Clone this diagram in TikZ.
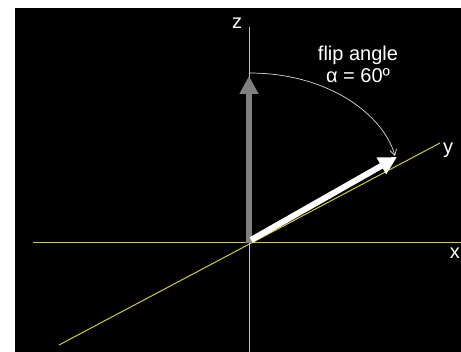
\documentclass[tikz,border=0pt]{standalone}
\usepackage{fontspec}
\setmainfont{Liberation Sans}
\usetikzlibrary{arrows.meta}
\definecolor{axisyellow}{RGB}{205,205,60}
\definecolor{spingray}{RGB}{128,128,128}
\tikzset{
  axis/.style={draw=axisyellow, line width=1pt},
  axislabel/.style={text=white, font=\fontsize{20}{22}\selectfont, inner sep=1pt},
  spin/.style={line width=6pt, -{Triangle[width=18pt,length=18pt]}},
}
\begin{document}
\begin{tikzpicture}[x=1pt, y=-1pt, >=Stealth]
    % Hintergrund
    \useasboundingbox (0,0) rectangle (461,352);
    \fill[black] (15,8) rectangle (461,352);

    % Punkte
    \coordinate (O) at (249,243);
    \coordinate (xL) at (33,243);
    \coordinate (xR) at (461,243);
    \coordinate (zT) at (249,27);
    \coordinate (zB) at (249,352);
    \coordinate (yL) at (59,345);
    \coordinate (yR) at (440,143);
    \coordinate (Mz) at (249,76);
    \coordinate (Mstart) at (251,240);
    \coordinate (Mxy) at (397,157);
    \coordinate (arcA) at (249,73);
    \coordinate (arcB) at (395,156);

    % Achsen
    \draw[axis] (xL) -- (xR);
    \draw[axis] (zT) -- (zB);
    \draw[axis] (yL) -- (yR);

    % Achsenbeschriftung
    \node[axislabel] (zlab) at (237,23) {z};
    \node[axislabel] (ylab) at (448,150) {y};
    \node[axislabel, anchor=east] (xlab) at (461,253) {x};

    % Magnetisierung vorher / nachher
    \draw[spin, spingray] (O) -- (Mz);
    \draw[spin, white] (Mstart) -- (Mxy);

    % Kippwinkel
    \draw[white!85!black, line width=0.7pt, -{Straight Barb[length=6pt,width=7pt]}]
        (arcA) .. controls (330,73) and (384,116) .. (arcB);
    \node[axislabel, align=center] (flip) at (358,64) {flip angle\\α = 60º};
\end{tikzpicture}
\end{document}
